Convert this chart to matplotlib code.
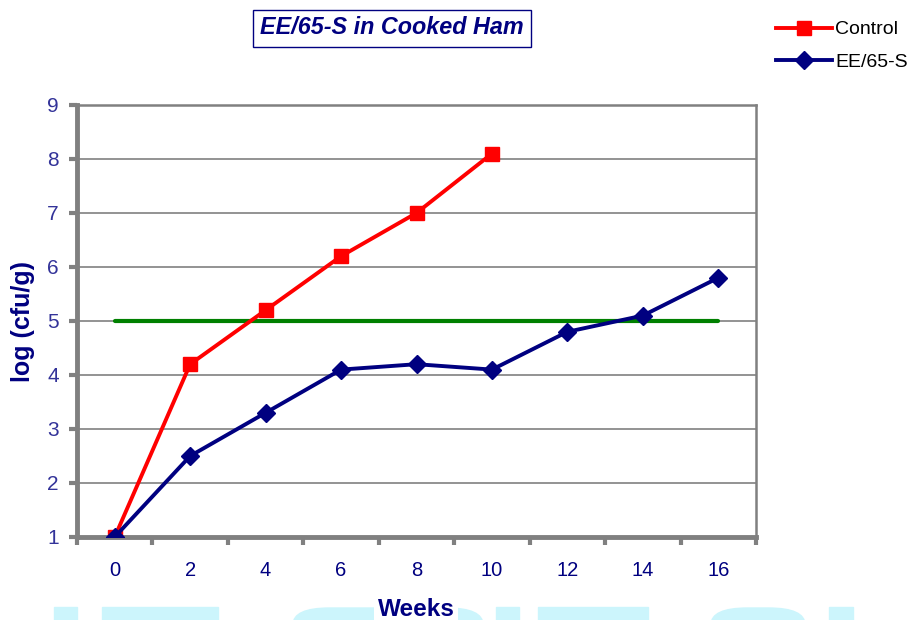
import matplotlib.pyplot as plt
import matplotlib.patches as mpatches
import numpy as np

plt.rcParams['font.family'] = ['Liberation Sans', 'DejaVu Sans']

# Données
semaines = [0, 2, 4, 6, 8, 10, 12, 14, 16]
controle = [1.0, 4.2, 5.2, 6.2, 7.0, 8.1]
ee65s = [1.0, 2.5, 3.3, 4.1, 4.2, 4.1, 4.8, 5.1, 5.8]
seuil = [5, 5, 5, 5, 5, 5, 5, 5, 5]
y_ticks = [1, 2, 3, 4, 5, 6, 7, 8, 9]

navy = '#000080'
gris = '#808080'

fig = plt.figure(figsize=(9.13, 6.2), dpi=100)

# Filigrane cyan en bas (décor)
cyan = '#ccf5fc'
for x0, w in [(54, 23), (102, 116), (496, 23), (538, 110), (829, 24)]:
    fig.patches.append(mpatches.Rectangle((x0 / 913, 0), w / 913, 13 / 620,
                                          transform=fig.transFigure, color=cyan, zorder=0))
for x0, w in [(293, 190), (711, 94)]:
    fig.patches.append(mpatches.FancyBboxPatch((x0 / 913, -30 / 620), w / 913, 42 / 620,
                                               boxstyle='round,pad=0,rounding_size=0.04',
                                               transform=fig.transFigure, color=cyan,
                                               zorder=0, mutation_aspect=620 / 913))

ax = fig.add_axes([77 / 913, 1 - 537 / 620, (756 - 77) / 913, 432 / 620])
ax.set_facecolor('none')

idx = np.arange(len(semaines))
ax.plot(idx, seuil, color='#008000', linewidth=3, solid_capstyle='round', zorder=3)
ax.plot(idx[:len(controle)], controle, color='#ff0000', linewidth=2.8,
        marker='s', markersize=10.5, label='Control', zorder=4)
ax.plot(idx, ee65s, color=navy, linewidth=2.8,
        marker='D', markersize=9, label='EE/65-S', zorder=5)

ax.set_xlim(-0.5, len(semaines) - 0.5)
ax.set_ylim(1, 9)
ax.set_yticks(y_ticks)
ax.set_xticks(idx)
ax.set_xticklabels([str(s) for s in semaines])
ax.set_xticks(np.arange(-0.5, len(semaines)), minor=True)

ax.grid(axis='y', color=gris, linewidth=1.2)
ax.set_axisbelow(True)

ax.tick_params(axis='x', which='major', length=0, pad=17, labelsize=14.5, labelcolor=navy)
ax.tick_params(axis='x', which='minor', length=6, width=3, color=gris, direction='out')
ax.tick_params(axis='y', length=6, width=3, color=gris, direction='out',
               labelsize=15, labelcolor='#333399', pad=7)

ax.spines['left'].set_color(gris)
ax.spines['left'].set_linewidth(3.5)
ax.spines['bottom'].set_color(gris)
ax.spines['bottom'].set_linewidth(3.5)
ax.spines['top'].set_color(gris)
ax.spines['top'].set_linewidth(1.8)
ax.spines['right'].set_color(gris)
ax.spines['right'].set_linewidth(1.8)

ax.set_ylabel('log (cfu/g)', fontsize=18, fontweight='bold', color=navy, labelpad=9)
fig.text(416 / 913, 1 - 609 / 620, 'Weeks', fontsize=17.5, fontweight='bold',
         color=navy, ha='center', va='center',
         bbox=dict(boxstyle='square,pad=0.15', facecolor='white', edgecolor='none'))

fig.text(392 / 913, 1 - 28 / 620, 'EE/65-S in Cooked Ham', fontsize=16.8,
         fontweight='bold', fontstyle='italic', color=navy, ha='center', va='center',
         bbox=dict(boxstyle='square,pad=0.3', facecolor='white', edgecolor=navy, linewidth=1))

fig.legend(loc='upper left', bbox_to_anchor=(766 / 913, 1 - 11 / 620), frameon=False,
           fontsize=14, handlelength=2.9, handletextpad=0.15, labelspacing=0.78,
           borderpad=0)

fig.savefig('out.png', dpi=100)
